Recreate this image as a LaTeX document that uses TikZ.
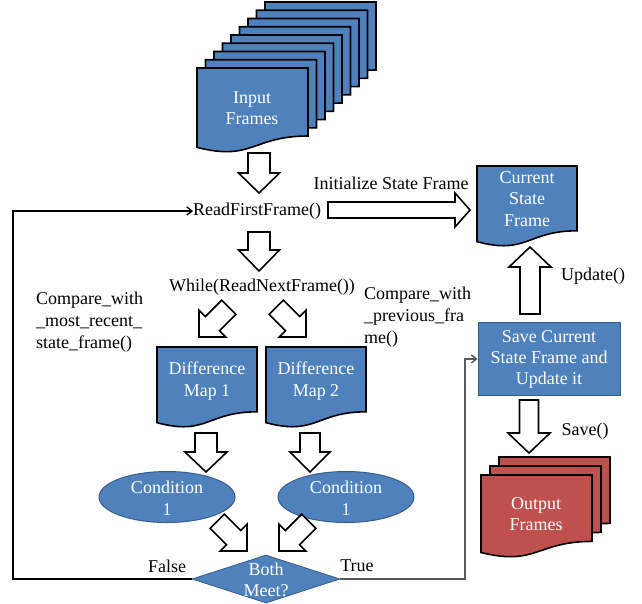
\documentclass[tikz,border=0pt]{standalone}
\usepackage{fontspec}
\setmainfont{Liberation Serif}
\usetikzlibrary{shapes.geometric,arrows.meta}
\definecolor{obluefill}{HTML}{4F81BD}
\definecolor{obluedark}{HTML}{385D8A}
\definecolor{oredfill}{HTML}{C0504D}
\tikzset{
  docst/.style={draw=black,line width=1.6pt,fill=obluefill,line join=miter},
  reddocst/.style={draw=black,line width=1.6pt,fill=oredfill},
  barrowst/.style={draw=black,line width=1.6pt,fill=white,line join=miter},
  wtext/.style={text=white,align=center,inner sep=0pt,font=\fontsize{18}{21.5}\selectfont},
  btext/.style={text=black,inner sep=0pt,font=\fontsize{18}{22}\selectfont},
  condst/.style={ellipse,fill=obluefill,draw=obluedark,line width=1pt,minimum width=136pt,minimum height=51pt,inner sep=0pt},
  decst/.style={diamond,fill=obluefill,draw=obluedark,line width=0.8pt,minimum width=148pt,minimum height=48pt,inner sep=0pt,aspect=3},
  boxst/.style={rectangle,fill=obluefill,draw=obluedark,line width=1pt,minimum width=142pt,minimum height=73pt,inner sep=0pt},
  flowline/.style={line width=1.4pt,-{Straight Barb[length=5pt,width=8pt]}},
}
% document shape: #1 x0, #2 y0, #3 w, #4 h, #5 style
\newcommand{\docshape}[5]{%
  \draw[#5] (#1,#2) -- ({#1+#3},#2) -- ({#1+#3},{#2+0.80*#4})
    .. controls ({#1+0.5*#3},{#2+0.80*#4}) and ({#1+0.5*#3},{#2+1.10*#4}) .. (#1,{#2+0.934*#4}) -- cycle;}
% block arrow: #1 tip, #2 angle, #3 length, #4 shaft half width, #5 head half width, #6 head length
\newcommand{\barrow}[6]{%
  \begin{scope}[shift={#1},rotate=#2]
    \draw[barrowst] (0,0) -- (-#6,#5) -- (-#6,#4) -- (-#3,#4) -- (-#3,-#4) -- (-#6,-#4) -- (-#6,-#5) -- cycle;
  \end{scope}}
\begin{document}
\begin{tikzpicture}[x=1pt,y=-1pt]
\useasboundingbox (0,0) rectangle (642,603);

% input frames stack
\foreach \i in {8,7,...,1} {
  \docshape{197+8.5*\i}{68-8.25*\i}{111}{85}{docst}
}
\docshape{197}{68}{111}{85}{docst}
\node[wtext] (input) at (252,108) {Input\\Frames};

% current state frame
\docshape{477}{166}{100}{81}{docst}
\node[wtext] (csf) at (527,199) {Current\\State\\Frame};

% difference maps
\docshape{157}{347}{100}{81}{docst}
\node[wtext] (dm1) at (207,381) {Difference\\Map 1};
\docshape{266}{347}{100}{81}{docst}
\node[wtext] (dm2) at (316,381) {Difference\\Map 2};

% output frames
\docshape{499}{457}{111}{83}{reddocst}
\docshape{490}{466}{111}{83}{reddocst}
\docshape{481}{475}{111}{83}{reddocst}
\node[wtext] (out) at (536,514) {Output\\Frames};

% conditions
\node[condst] (c1) at (167,497) {};
\node[wtext] (c1t) at (167,498) {Condition\\1};
\node[condst] (c2) at (346,497) {};
\node[wtext] (c2t) at (346,498) {Condition\\1};

% decision
\node[decst] (both) at (266,579) {};
\node[wtext] (botht) at (266,580) {Both\\Meet?};

% save box
\node[boxst] (save) at (549,359) {};
\node[wtext,font=\fontsize{18}{21}\selectfont] (savet) at (549,359) {Save Current\\State Frame and\\Update it};

% text labels
\node[btext,anchor=west] (rff) at (193,211) {ReadFirstFrame()};
\node[btext] (init) at (391,183) {Initialize State Frame};
\node[btext] (while) at (262,287) {While(ReadNextFrame())};
\node[btext,anchor=west,align=left] (cmp1) at (36,322) {Compare\_with\\\_most\_recent\_\\state\_frame()};
\node[btext,anchor=west,align=left] (cmp2) at (364,317) {Compare\_with\\\_previous\_fra\\me()};
\node[btext] (upd) at (593,276) {Update()};
\node[btext] (sv) at (585,431) {Save()};
\node[btext] (false) at (167,566) {False};
\node[btext] (true) at (357,566) {True};

% block arrows
\barrow{(259,193)}{-90}{40}{11}{20.5}{20}
\barrow{(259,271)}{-90}{39}{11}{20.5}{21}
\barrow{(470,210)}{0}{142}{8}{17}{15}
\barrow{(530,247)}{90}{67}{10}{21}{20}
\barrow{(529,453)}{-90}{53}{9.5}{21}{20}
\barrow{(206,472)}{-90}{39}{11}{21}{20}
\barrow{(310,472)}{-90}{39}{10}{20}{20}
\barrow{(199,337)}{-135}{42}{10}{19}{19}
\barrow{(306,337)}{-45}{42}{10}{19}{19}
\barrow{(247,551)}{-45}{42}{10}{19}{19}
\barrow{(279,551)}{-135}{42}{10}{19}{19}

% loops
\coordinate (lc1) at (13,579);
\coordinate (lc2) at (13,211);
\draw[flowline] (both.west) -- (lc1) -- (lc2) -- (rff.west);
\coordinate (rc1) at (465,579);
\coordinate (rc2) at (465,359);
\draw[flowline,draw=black!65] (both.east) -- (rc1) -- (rc2) -- (save.west);
\end{tikzpicture}
\end{document}
